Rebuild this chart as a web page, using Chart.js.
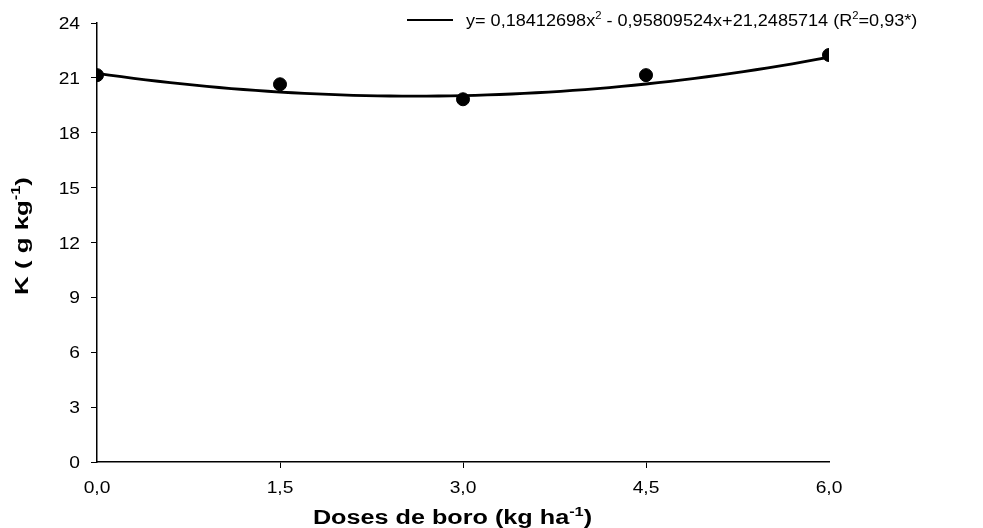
<!DOCTYPE html>
<html>
<head>
<meta charset="utf-8">
<script src="https://cdn.jsdelivr.net/npm/chart.js@4/dist/chart.umd.min.js"></script>
<style>
  html, body { margin: 0; padding: 0; background: #fff; }
  #wrap { width: 983px; height: 528px; }
</style>
</head>
<body>
<div id="wrap"><canvas id="kchart" width="983" height="528"></canvas></div>
<script>
// observed doses and K values
var doses = [0, 1.5, 3, 4.5, 6];
var kValues = [21.15, 20.65, 19.83, 21.15, 22.25];
// quadratic fit from the legend: c0 + c1*x + c2*x^2
var coef = [21.2485714, -0.95809524, 0.18412698];
var xTicks = [0, 1.5, 3, 4.5, 6];
var yTicks = [0, 3, 6, 9, 12, 15, 18, 21, 24];

var fitPts = [];
for (var i = 0; i <= 60; i++) {
  var x = i / 10;
  fitPts.push({ x: x, y: coef[0] + coef[1] * x + coef[2] * x * x });
}
var obsPts = doses.map(function (d, i) { return { x: d, y: kValues[i] }; });

// text drawn a bit wider than normal Arial, like the original figure
function fontOf(size, bold) {
  return (bold ? "bold " : "") + size + "px 'Liberation Sans', Arial, sans-serif";
}
function richWidth(ctx, parts, size, bold, st) {
  var w = 0;
  parts.forEach(function (p) {
    ctx.font = fontOf(p[1] ? Math.round(size * 0.65) : size, bold);
    w += ctx.measureText(p[0]).width;
  });
  return w * st;
}
function rich(ctx, parts, x, y, size, bold, st) {
  var w = 0;
  ctx.save();
  ctx.translate(x, y);
  ctx.scale(st, 1);
  parts.forEach(function (p) {
    ctx.font = fontOf(p[1] ? Math.round(size * 0.65) : size, bold);
    ctx.fillText(p[0], w, p[1] ? -size * 0.42 : 0);
    w += ctx.measureText(p[0]).width;
  });
  ctx.restore();
}

var textPlugin = {
  id: "texts",
  afterDraw: function (chart) {
    var ctx = chart.ctx, xs = chart.scales.x, ys = chart.scales.y;
    ctx.save();
    ctx.fillStyle = "#000";
    ctx.textBaseline = "alphabetic";
    ctx.textAlign = "left";
    // y tick labels
    yTicks.forEach(function (v) {
      var p = [[String(v), false]];
      var w = richWidth(ctx, p, 16, false, 1.2);
      rich(ctx, p, 80 - w, ys.getPixelForValue(v) + 6, 16, false, 1.2);
    });
    // x tick labels
    xTicks.forEach(function (v) {
      var p = [[v.toFixed(1).replace(".", ","), false]];
      var w = richWidth(ctx, p, 16, false, 1.2);
      rich(ctx, p, xs.getPixelForValue(v) - w / 2, 492.5, 16, false, 1.2);
    });
    // x title
    var xt = [["Doses de boro (kg ha", false], ["-1", true], [")", false]];
    var xw = richWidth(ctx, xt, 20, true, 1.26);
    rich(ctx, xt, 313 + (279 - xw) / 2, 524, 20, true, 1.26);
    // y title
    var yt = [["K ( g kg", false], ["-1", true], [")", false]];
    var yw = richWidth(ctx, yt, 19, true, 1.36);
    ctx.save();
    ctx.translate(28, 236);
    ctx.rotate(-Math.PI / 2);
    rich(ctx, yt, -yw / 2, 0, 19, true, 1.36);
    ctx.restore();
    // legend
    ctx.strokeStyle = "#000";
    ctx.lineWidth = 2;
    ctx.beginPath();
    ctx.moveTo(407, 20);
    ctx.lineTo(453, 20);
    ctx.stroke();
    rich(ctx, [["y= 0,18412698x", false], ["2", true], [" - 0,95809524x+21,2485714 (R", false], ["2", true], ["=0,93*)", false]], 466, 26, 16, false, 1.13);
    ctx.restore();
  }
};

new Chart(document.getElementById("kchart"), {
  type: "scatter",
  data: {
    datasets: [{
      data: obsPts,
      backgroundColor: "#000",
      borderColor: "#000",
      pointRadius: 6.5,
      pointHoverRadius: 6.5,
      order: 0
    }, {
      data: fitPts,
      showLine: true,
      borderColor: "#000",
      borderWidth: 2.8,
      pointRadius: 0,
      tension: 0,
      order: 1
    }]
  },
  options: {
    responsive: false,
    animation: false,
    devicePixelRatio: 1,
    layout: { padding: { left: 0, top: 23, right: 154, bottom: 0 } },
    plugins: { legend: { display: false }, tooltip: { enabled: false } },
    scales: {
      x: {
        type: "linear",
        min: 0, max: 6,
        afterBuildTicks: function (s) { s.ticks = xTicks.map(function (v) { return { value: v }; }); },
        afterFit: function (s) { s.height = 66; },
        ticks: { display: false },
        grid: {
          drawOnChartArea: false, drawTicks: true, tickLength: 6, lineWidth: 1,
          color: function (c) { return (c.index === 0 || c.index === xTicks.length - 1) ? "rgba(0,0,0,0)" : "#000"; }
        },
        border: { display: true, color: "#000", width: 1.5 }
      },
      y: {
        min: 0, max: 24,
        afterBuildTicks: function (s) { s.ticks = yTicks.map(function (v) { return { value: v }; }); },
        afterFit: function (s) { s.width = 97; },
        ticks: { display: false },
        grid: { drawOnChartArea: false, drawTicks: true, tickLength: 6, lineWidth: 1, color: "#000" },
        border: { display: true, color: "#000", width: 1.5 }
      }
    }
  },
  plugins: [textPlugin]
});
</script>
</body>
</html>
